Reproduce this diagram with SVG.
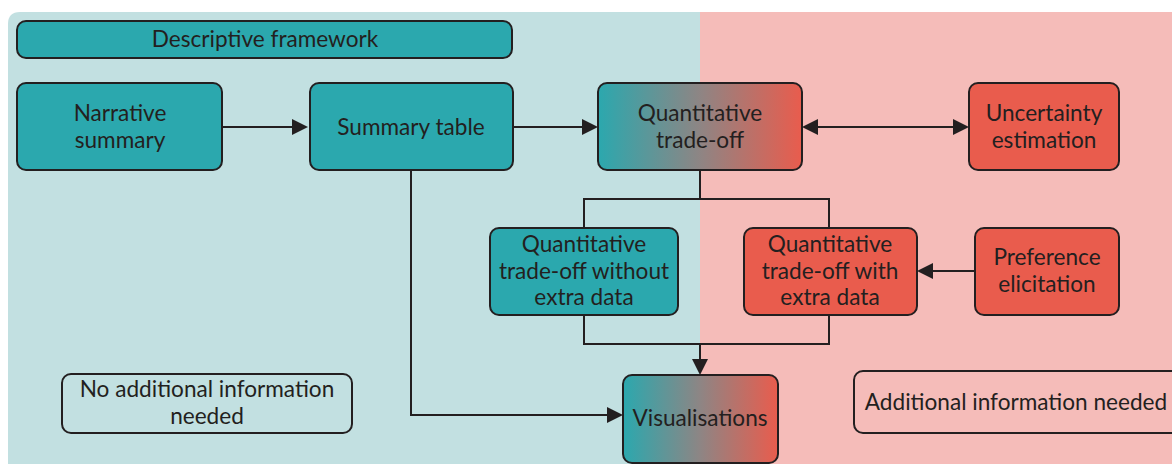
<svg xmlns="http://www.w3.org/2000/svg" width="1172" height="464" viewBox="0 0 1172 464">
<style>
text{font-family:Lato,"Open Sans","Liberation Sans",sans-serif;font-size:22.6px;fill:#231F20;text-anchor:middle}
.box{stroke:#231F20;stroke-width:2}
.teal{fill:#2BA8AE}
.red{fill:#E95C4D}
.grad{fill:url(#g)}
.plain{fill:none}
.ln{fill:none;stroke:#231F20;stroke-width:2}
.ah{fill:#231F20}
</style>
<defs>
<linearGradient id="g" x1="0" y1="0" x2="1" y2="0">
<stop offset="0" stop-color="#2BA8AE"/>
<stop offset="0.5" stop-color="#8E8584"/>
<stop offset="1" stop-color="#E95C4D"/>
</linearGradient>
</defs>
<g id="background">
<path d="M20,12 H700 V464 H8 V24 Q8,12 20,12 Z" fill="#C2E0E1"/>
<rect x="700" y="12" width="472" height="452" fill="#F5BCB9"/>
</g>
<g id="connectors">
<line class="ln" x1="222" y1="127" x2="294" y2="127"/>
<path class="ah" d="M292,119 L308,127 L292,135 Z"/>
<line class="ln" x1="513" y1="127" x2="584" y2="127"/>
<path class="ah" d="M582,119 L598,127 L582,135 Z"/>
<line class="ln" x1="818" y1="127" x2="953" y2="127"/>
<path class="ah" d="M818,119 L802,127 L818,135 Z"/>
<path class="ah" d="M953,119 L969,127 L953,135 Z"/>
<path class="ln" d="M700,170 V199 M584,228 V199 H829 V228"/>
<path class="ln" d="M584,315 V344 H829 V315 M700,344 V360"/>
<path class="ah" d="M692,359 L700,375 L708,359 Z"/>
<path class="ln" d="M411,170 V415 H608"/>
<path class="ah" d="M607,407 L623,415 L607,423 Z"/>
<line class="ln" x1="975" y1="271" x2="932" y2="271"/>
<path class="ah" d="M933,263 L917,271 L933,279 Z"/>
</g>
<g id="descriptive-framework">
<rect class="box teal" x="17" y="21" width="495" height="37" rx="9"/>
<text x="265" y="47">Descriptive framework</text>
</g>
<g id="narrative-summary">
<rect class="box teal" x="17" y="83" width="205" height="87" rx="9"/>
<text x="120" y="121">Narrative</text>
<text x="120" y="148">summary</text>
</g>
<g id="summary-table">
<rect class="box teal" x="310" y="83" width="203" height="87" rx="9"/>
<text x="411" y="135">Summary table</text>
</g>
<g id="quantitative-trade-off">
<rect class="box grad" x="598" y="83" width="204" height="87" rx="9"/>
<text x="700" y="121">Quantitative</text>
<text x="700" y="148">trade-off</text>
</g>
<g id="uncertainty-estimation">
<rect class="box red" x="969" y="83" width="150" height="87" rx="9"/>
<text x="1044" y="121">Uncertainty</text>
<text x="1044" y="148">estimation</text>
</g>
<g id="qto-without">
<rect class="box teal" x="490" y="228" width="188" height="87" rx="9"/>
<text x="584" y="252">Quantitative</text>
<text x="584" y="279">trade-off without</text>
<text x="584" y="305">extra data</text>
</g>
<g id="qto-with">
<rect class="box red" x="744" y="228" width="173" height="87" rx="9"/>
<text x="830" y="252">Quantitative</text>
<text x="830" y="279">trade-off with</text>
<text x="830" y="305">extra data</text>
</g>
<g id="preference-elicitation">
<rect class="box red" x="975" y="228" width="144" height="87" rx="9"/>
<text x="1047" y="265">Preference</text>
<text x="1047" y="292">elicitation</text>
</g>
<g id="visualisations">
<rect class="box grad" x="623" y="375" width="155" height="88" rx="9"/>
<text x="700" y="426">Visualisations</text>
</g>
<g id="no-additional">
<rect class="box plain" x="62" y="374" width="290" height="59" rx="9"/>
<text x="207" y="397">No additional information</text>
<text x="207" y="424">needed</text>
</g>
<g id="additional">
<rect class="box plain" x="854" y="371" width="330" height="62" rx="9"/>
<text x="1016" y="410">Additional information needed</text>
</g>
</svg>
